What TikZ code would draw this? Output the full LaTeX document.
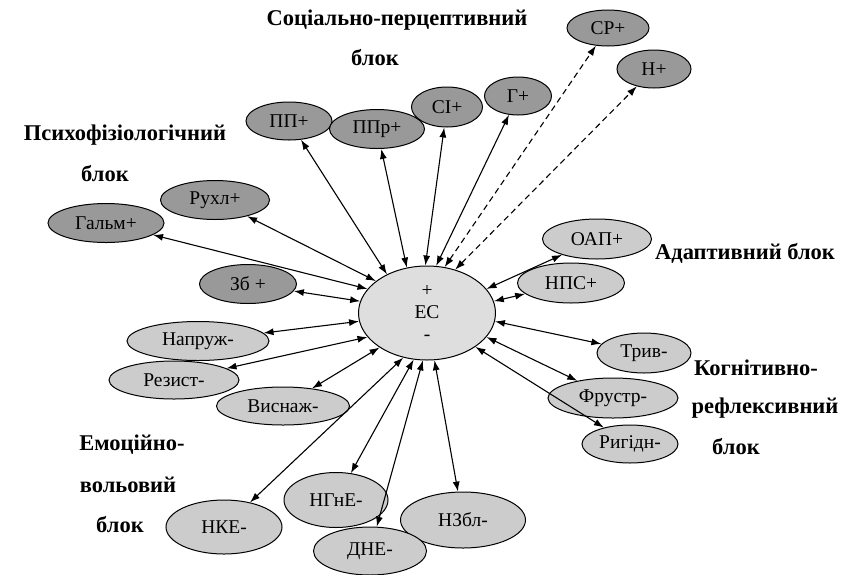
\documentclass[tikz,border=0pt]{standalone}
\usepackage{fontspec}
\setmainfont{Liberation Serif}
\usetikzlibrary{shapes.geometric,arrows.meta}

\tikzset{
  plusnode/.style={draw, ellipse, inner sep=0pt, line width=1pt, fill=black!40,
    font=\fontsize{19.5}{22}\selectfont},
  minusnode/.style={plusnode, fill=black!20},
  link/.style={{Latex[length=10pt,width=7pt]}-{Latex[length=10pt,width=7pt]}, line width=1.1pt},
  blocklabel/.style={font=\bfseries\fontsize{22.5}{26}\selectfont}
}

\begin{document}
\begin{tikzpicture}[x=1pt, y=-1pt]
    \useasboundingbox (0,0) rectangle (857,574);
    % central state
    \node[minusnode, fill=black!13, minimum width=137, minimum height=94, align=center,
      font=\fontsize{19.5}{22}\selectfont] (ec) at (427,313) {+\\ЕС\\-};
    % social-perceptive block
    \node[plusnode, minimum width=86, minimum height=38] (pp) at (289,121) {ПП+};
    \node[plusnode, minimum width=95, minimum height=39] (ppr) at (377,129) {ППр+};
    \node[plusnode, minimum width=71, minimum height=40] (si) at (447,107) {СІ+};
    \node[plusnode, minimum width=67, minimum height=38] (g) at (518,96) {Г+};
    \node[plusnode, minimum width=82, minimum height=36] (sr) at (608,28) {СР+};
    \node[plusnode, minimum width=74, minimum height=38] (n) at (654,69) {Н+};
    \node[blocklabel] at (397,20) {Соціально-перцептивний};
    \node[blocklabel] at (375,58) {блок};
    % psychophysiological block
    \node[plusnode, minimum width=109, minimum height=39] (rukhl) at (215,200) {Рухл+};
    \node[plusnode, minimum width=116, minimum height=39] (galm) at (106,223) {Гальм+};
    \node[plusnode, minimum width=97, minimum height=39] (zb) at (248,284) {Зб +};
    \node[blocklabel] at (125,135) {Психофізіологічний};
    \node[blocklabel] at (105,174) {блок};
    % adaptive block
    \node[minusnode, minimum width=109, minimum height=40] (oap) at (597,239) {ОАП+};
    \node[minusnode, minimum width=107, minimum height=40] (nps) at (571,283) {НПС+};
    \node[blocklabel] at (745,253) {Адаптивний блок};
    % cognitive-reflexive block
    \node[minusnode, minimum width=94, minimum height=40] (tryv) at (644,353) {Трив-};
    \node[minusnode, minimum width=130, minimum height=40] (frustr) at (613,398) {Фрустр-};
    \node[minusnode, minimum width=96, minimum height=38] (ryhidn) at (630,444) {Ригідн-};
    \node[blocklabel] at (756,368) {Когнітивно-};
    \node[blocklabel] at (765,408) {рефлексивний};
    \node[blocklabel] at (736,447) {блок};
    % emotional-volitional block
    \node[minusnode, minimum width=142, minimum height=39] (napruzh) at (198,341) {Напруж-};
    \node[minusnode, minimum width=130, minimum height=38] (rezyst) at (174,380) {Резист-};
    \node[minusnode, minimum width=133, minimum height=38] (vysnazh) at (283,406) {Виснаж-};
    \node[minusnode, minimum width=116, minimum height=54] (nke) at (224,527) {НКЕ-};
    \node[minusnode, minimum width=104, minimum height=55] (ngne) at (336,500) {НГнЕ-};
    \node[minusnode, minimum width=125, minimum height=56] (nzbl) at (463,520) {НЗбл-};
    \node[minusnode, minimum width=113, minimum height=48] (dne) at (370,551) {ДНЕ-};
    \node[blocklabel] at (132,445) {Емоційно-};
    \node[blocklabel] at (128,485) {вольовий};
    \node[blocklabel] at (120,525) {блок};
    % links: target / angle on the border of ec
    \foreach \k/\a in {pp/136, ppr/114, si/92, g/79, rukhl/148, galm/158, zb/170,
                       oap/22, nps/10, tryv/353, frustr/338, ryhidn/325,
                       napruzh/187, rezyst/202, vysnazh/216,
                       nke/242, ngne/254, dne/265, nzbl/279}
        \draw[link] (ec.\a) -- (\k);
    \draw[link, dash pattern=on 6pt off 4pt] (ec.69) -- (sr);
    \draw[link, dash pattern=on 6pt off 4pt] (ec.57) -- (n);
\end{tikzpicture}
\end{document}
